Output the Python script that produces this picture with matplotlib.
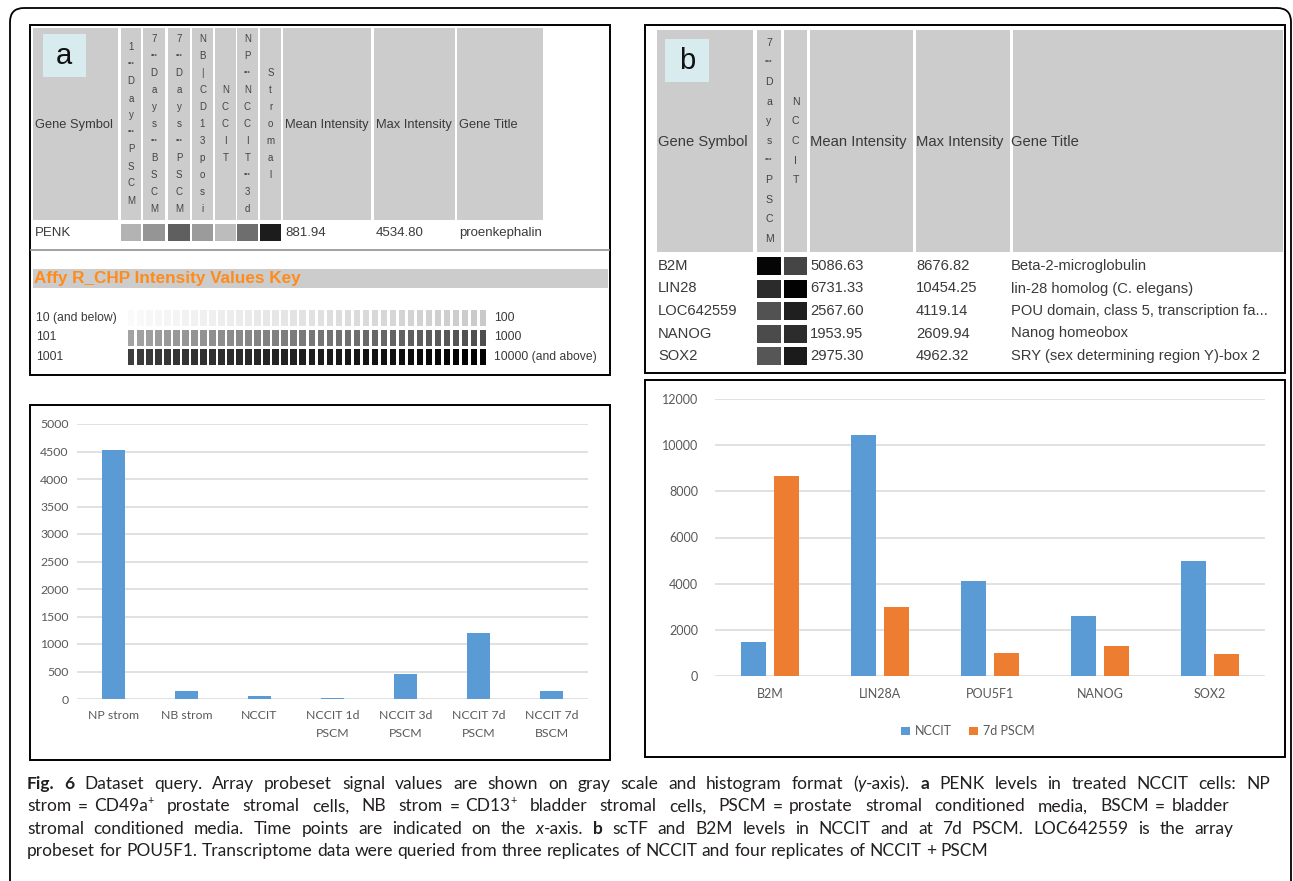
import numpy as np
import matplotlib
matplotlib.use('Agg')
from matplotlib import pyplot as plt
from matplotlib.patches import Rectangle, FancyBboxPatch

W, H = 1293, 881

# ---- panel a: table ----
a_headers = ['1*Day*PSCM', '7*Days*BSCM', '7*Days*PSCM', 'NB|CD13posi',
             'NCCIT', 'NP*NCCIT*3d', 'Stromal']
a_cell_grays = ['#b3b3b3', '#959595', '#5f5f5f', '#9b9b9b', '#bcbcbc',
                '#6e6e6e', '#1c1c1c']
a_gene = 'PENK'
a_mean = '881.94'
a_max = '4534.80'
a_title = 'proenkephalin'

key_left = ['10 (and below)', '101', '1001']
key_right = ['100', '1000', '10000 (and above)']
key_shades = [('#fafafa', '#c9c9c9'), ('#a3a3a3', '#4e4e4e'), ('#3d3d3d', '#000000')]

# ---- panel b: table ----
b_headers = ['7*Days*PSCM', 'NCCIT']
b_genes = ['B2M', 'LIN28', 'LOC642559', 'NANOG', 'SOX2']
b_mean = ['5086.63', '6731.33', '2567.60', '1953.95', '2975.30']
b_max = ['8676.82', '10454.25', '4119.14', '2609.94', '4962.32']
b_titles = ['Beta-2-microglobulin', 'lin-28 homolog (C. elegans)',
            'POU domain, class 5, transcription fa...', 'Nanog homeobox',
            'SRY (sex determining region Y)-box 2']
b_cell_grays = [['#050505', '#454545'], ['#2b2b2b', '#020202'],
                ['#525252', '#1f1f1f'], ['#4b4b4b', '#2c2c2c'],
                ['#565656', '#1b1b1b']]

# ---- bar charts ----
a_categories = ['NP strom', 'NB strom', 'NCCIT', 'NCCIT 1d\nPSCM',
                'NCCIT 3d\nPSCM', 'NCCIT 7d\nPSCM', 'NCCIT 7d\nBSCM']
a_values = [4535, 140, 50, 25, 450, 1197, 140]

b_categories = ['B2M', 'LIN28A', 'POU5F1', 'NANOG', 'SOX2']
b_nccit = [1476, 10454, 4119, 2610, 4962]
b_pscm = [8677, 2997, 1013, 1303, 941]

caption_lines = [
    [('Fig. 6', 'b'), (' Dataset query. Array probeset signal values are shown on gray scale and histogram format (', 'n'),
     ('y', 'i'), ('-axis). ', 'n'), ('a', 'b'), (' PENK levels in treated NCCIT cells: NP', 'n')],
    [('strom = CD49a', 'n'), ('+', 's'), (' prostate stromal cells, NB strom = CD13', 'n'), ('+', 's'),
     (' bladder stromal cells, PSCM = prostate stromal conditioned media, BSCM = bladder', 'n')],
    [('stromal conditioned media. Time points are indicated on the ', 'n'), ('x', 'i'), ('-axis. ', 'n'),
     ('b', 'b'), (' scTF and B2M levels in NCCIT and at 7d PSCM. LOC642559 is the array', 'n')],
    [('probeset for POU5F1. Transcriptome data were queried from three replicates of NCCIT and four replicates of NCCIT + PSCM', 'n')],
]
caption_widths = [1243, 1202, 1206, None]  # None = natural width

BLUE = '#5b9bd5'
ORANGE = '#ed7d31'
TXT = '#3a3a3a'
TFONT = 'Liberation Sans'
CFONT = 'Lato'
CAPFONT = 'Lato'

fig = plt.figure(figsize=(W / 100, H / 100), dpi=100)
base = fig.add_axes([0, 0, 1, 1])
base.set_xlim(0, W)
base.set_ylim(H, 0)
base.axis('off')


def rect(x0, y0, x1, y1, **kw):
    base.add_patch(Rectangle((x0, y0), x1 - x0, y1 - y0, **kw))


def stack(xc, yc, word, spacing, size):
    toks = ['***' if c == '*' else c for c in word]
    n = len(toks)
    for i, t in enumerate(toks):
        y = yc + (i - (n - 1) / 2) * spacing
        base.text(xc, y, t, ha='center', va='center', family=TFONT,
                  fontsize=size * 0.6 if t == '***' else size,
                  fontweight='bold' if t == '***' else 'normal', color='#444444')


# outer rounded frame
base.add_patch(FancyBboxPatch((10, 8), 1281, 920, boxstyle='round,pad=0,rounding_size=14',
                              fill=False, ec='black', lw=1.3))

# ---------- panel a table ----------
rect(30, 25, 610, 375, fc='white', ec='black', lw=1.4)
a_cols = [(121, 141), (143, 165), (168, 190), (192, 213), (215, 236), (237, 258), (260, 281)]
for x0, x1 in [(33, 118)] + a_cols + [(283, 371), (374, 455), (457, 543)]:
    rect(x0, 28, x1, 220, fc='#cccccc', ec='none')
rect(43, 34, 86, 77, fc='#d8ecef', ec='none')
base.text(64, 56, 'a', fontsize=21, family=TFONT, ha='center', va='center', color='#111111')
for (x0, x1), word in zip(a_cols, a_headers):
    stack((x0 + x1) / 2, 124, word, 17, 7)
for x, label in [(35, 'Gene Symbol'), (285, 'Mean Intensity'), (376, 'Max Intensity'), (459, 'Gene Title')]:
    base.text(x, 125, label, fontsize=9.3, family=TFONT, va='center', color=TXT)
for (x0, x1), c in zip(a_cols, a_cell_grays):
    rect(x0, 224, x1, 241, fc=c, ec='none')
for x, label in [(35, a_gene), (285, a_mean), (376, a_max), (459, a_title)]:
    base.text(x, 233, label, fontsize=9.5, family=TFONT, va='center', color=TXT)
base.plot([31, 609], [250, 250], color='#9a9a9a', lw=1.3)

# intensity key
rect(33, 269, 608, 288, fc='#cccccc', ec='none')
base.text(34, 279, 'Affy R_CHP Intensity Values Key', fontsize=12.3, fontweight='bold',
          family=TFONT, color='#ff8c1a', va='center')
n_key = 40
pitch = (489 - 128) / n_key
for r, (lab_l, lab_r, (c0, c1)) in enumerate(zip(key_left, key_right, key_shades)):
    yc = 318 + r * 19.5
    g0 = int(c0[1:3], 16)
    g1 = int(c1[1:3], 16)
    for k, g in enumerate(np.linspace(g0, g1, n_key)):
        gi = int(round(g))
        rect(128 + k * pitch, yc - 8, 128 + k * pitch + pitch * 0.72, yc + 8,
             fc='#%02x%02x%02x' % (gi, gi, gi), ec='none')
    base.text(36, yc, lab_l, fontsize=8.7, family=TFONT, va='center', color=TXT)
    base.text(494, yc, lab_r, fontsize=8.7, family=TFONT, va='center', color=TXT)

# ---------- panel b table ----------
rect(645, 25, 1285, 373, fc='white', ec='black', lw=1.4)
b_cols = [(757, 781), (784, 807)]
for x0, x1 in [(657, 753)] + b_cols + [(810, 913), (916, 1010), (1013, 1283)]:
    rect(x0, 30, x1, 252, fc='#cccccc', ec='none')
rect(665, 39, 709, 82, fc='#d8ecef', ec='none')
base.text(687, 61, 'b', fontsize=21, family=TFONT, ha='center', va='center', color='#111111')
for (x0, x1), word in zip(b_cols, b_headers):
    stack((x0 + x1) / 2, 141, word, 19.6, 7.6)
for x, label in [(658, 'Gene Symbol'), (810, 'Mean Intensity'), (916, 'Max Intensity'), (1011, 'Gene Title')]:
    base.text(x, 142, label, fontsize=10.6, family=TFONT, va='center', color=TXT)
for i in range(len(b_genes)):
    yc = 266 + i * 22.5
    for (x0, x1), c in zip(b_cols, b_cell_grays[i]):
        rect(x0, yc - 9, x1, yc + 9, fc=c, ec='none')
    for x, label in [(658, b_genes[i]), (810, b_mean[i]), (916, b_max[i]), (1011, b_titles[i])]:
        base.text(x, yc, label, fontsize=10.6, family=TFONT, va='center', color=TXT)

# ---------- bar chart boxes ----------
rect(30, 405, 610, 760, fc='white', ec='black', lw=1.4)
rect(645, 380, 1285, 757, fc='white', ec='black', lw=1.4)


def px_axes(x0, y0, x1, y1):
    return fig.add_axes([x0 / W, 1 - y1 / H, (x1 - x0) / W, (y1 - y0) / H])


def excel_style(ax, size, pad_x, pad_y):
    for s in ax.spines.values():
        s.set_visible(False)
    ax.set_facecolor('none')
    ax.grid(axis='y', color='#d9d9d9', lw=1.1)
    ax.set_axisbelow(True)
    ax.tick_params(length=0, labelsize=size, labelcolor='#595959')
    ax.tick_params(axis='x', pad=pad_x)
    ax.tick_params(axis='y', pad=pad_y)
    for lab in ax.get_xticklabels() + ax.get_yticklabels():
        lab.set_family(CFONT)


axA = px_axes(77, 424, 588, 699)
xa = np.arange(len(a_categories))
axA.bar(xa, a_values, width=0.31, color=BLUE)
axA.set_xlim(-0.5, len(a_categories) - 0.5)
axA.set_ylim(0, 5000)
axA.set_yticks(np.arange(0, 5001, 500))
axA.set_xticks(xa)
axA.set_xticklabels(a_categories, linespacing=1.75)
excel_style(axA, 8.8, 8, 6)

axB = px_axes(715, 399, 1265, 676)
xb = np.arange(len(b_categories))
axB.bar(xb - 0.15, b_nccit, width=0.235, color=BLUE, label='NCCIT')
axB.bar(xb + 0.15, b_pscm, width=0.235, color=ORANGE, label='7d PSCM')
axB.set_xlim(-0.5, len(b_categories) - 0.5)
axB.set_ylim(0, 12000)
axB.set_yticks(np.arange(0, 12001, 2000))
axB.set_xticks(xb)
axB.set_xticklabels(b_categories)
excel_style(axB, 9, 9, 12)
leg = axB.legend(loc='center', bbox_to_anchor=(0.46, -0.2), ncol=2, frameon=False,
                 handlelength=0.7, handleheight=0.7, handletextpad=0.4, columnspacing=1.4,
                 prop={'family': CFONT, 'size': 9})
for t in leg.get_texts():
    t.set_color('#595959')

# ---------- caption (justified lines, tighter spaces around '=') ----------
renderer = fig.canvas.get_renderer()


def seg_kw(kind, size):
    kw = dict(family=CAPFONT, fontsize=size, color='#231f20')
    if kind == 'b':
        kw['fontweight'] = 'bold'
    if kind == 'i':
        kw['style'] = 'italic'
    if kind == 's':
        kw['fontsize'] = size * 0.62
    return kw


def advance(s, kind, size):
    t1 = base.text(0, 0, '|' + s + '|', **seg_kw(kind, size))
    t2 = base.text(0, 0, '||', **seg_kw(kind, size))
    w = t1.get_window_extent(renderer).width - t2.get_window_extent(renderer).width
    t1.remove()
    t2.remove()
    return w


def tokens(segs):
    out = []
    for s, k in segs:
        parts = s.split(' ')
        for j, p in enumerate(parts):
            if j > 0:
                out.append((' ', 'n'))
            if p:
                out.append((p, k))
    # spaces next to '=' are thinner and stretch less
    for j, (s, k) in enumerate(out):
        if s == ' ' and ((j > 0 and out[j - 1][0] == '=') or (j + 1 < len(out) and out[j + 1][0] == '=')):
            out[j] = (' ', 'thin')
    return out


def tok_width(s, k, size):
    if k == 'thin':
        return advance(' ', 'n', size) * 0.7
    return advance(s, k, size)


def natural_width(toks, size):
    return sum(tok_width(s, k, size) for s, k in toks)


cap_size = 12 * 955 / natural_width(tokens(caption_lines[3]), 12)
for i, (segs, target) in enumerate(zip(caption_lines, caption_widths)):
    toks = tokens(segs)
    weight = sum(1.0 if k == 'n' else 0.4 for s, k in toks if s == ' ')
    extra = 0 if target is None else max(0, (target - natural_width(toks, cap_size)) / weight)
    x = 27
    yb = 789 + i * 22.4
    for s, k in toks:
        if s == ' ':
            x += tok_width(s, k, cap_size) + extra * (1.0 if k == 'n' else 0.4)
            continue
        y = yb - cap_size * 100 / 72 * 0.42 if k == 's' else yb
        base.text(x, y, s, va='baseline', ha='left', **seg_kw(k, cap_size))
        x += advance(s, k, cap_size)

fig.savefig('out.png', dpi=100)
